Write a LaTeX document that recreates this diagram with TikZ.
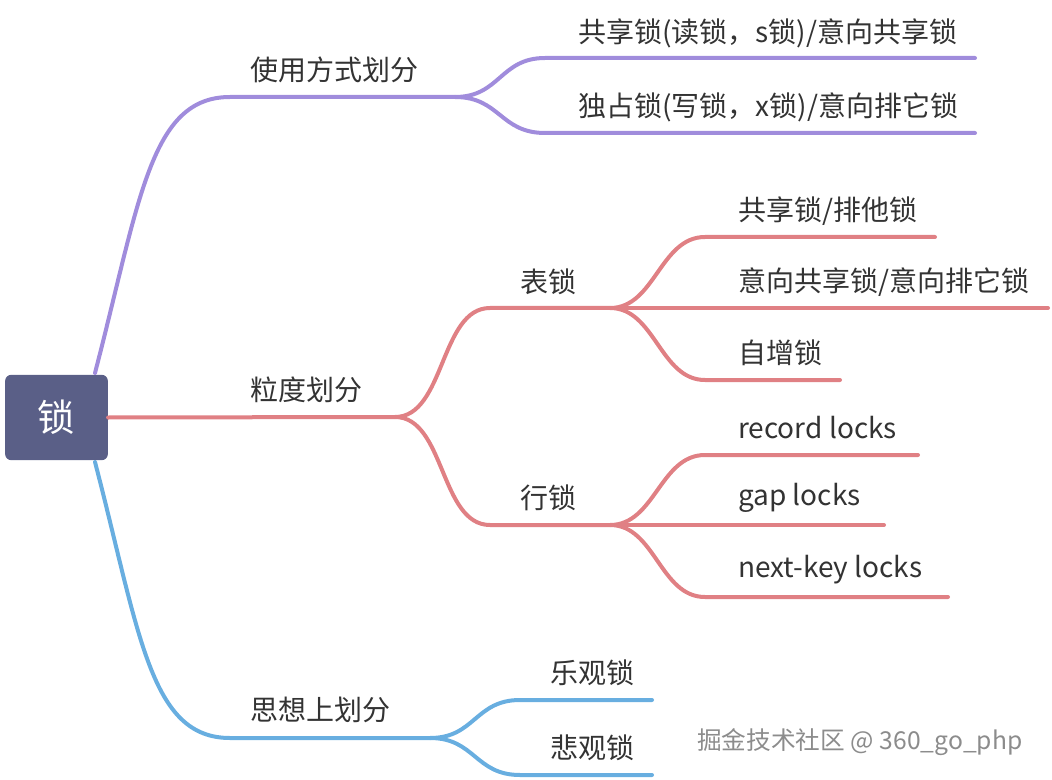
\documentclass[tikz,border=0pt]{standalone}
\usepackage{fontspec}
\setmainfont{Noto Sans CJK SC}
\usepackage{xcolor}
\usetikzlibrary{positioning,calc}
\definecolor{rootfill}{HTML}{5A5F87}
\definecolor{usecol}{HTML}{A08CDC}
\definecolor{grancol}{HTML}{E08084}
\definecolor{ideacol}{HTML}{68AEE0}
\definecolor{txtcol}{HTML}{333333}

\tikzset{
  rootbox/.style={fill=rootfill, rounded corners=4.5pt, minimum width=77pt, minimum height=64pt,
    inner sep=0pt, text=white, font=\fontsize{28}{32}\selectfont},
  branch/.style={line width=3pt, line cap=round},
  leaf/.style={anchor=west, inner sep=0pt, text=txtcol, font=\fontsize{21}{25}\selectfont},
}

\begin{document}
\begin{tikzpicture}[x=0.75pt,y=-0.75pt]
    \useasboundingbox (0,0) rectangle (1052,780);

    % root
    \node[rootbox] (root) at (56.5,417.5) {锁};
    \coordinate (usestart) at (95,373);
    \coordinate (ideastart) at (95,462);

    % 使用方式划分
    \node[leaf] (use) at (250,70) {使用方式划分};
    \node[leaf] (use-s) at (578,33) {共享锁(读锁，s锁)/意向共享锁};
    \node[leaf] (use-x) at (578,107) {独占锁(写锁，x锁)/意向排它锁};
    \coordinate (usemid) at (230,97);
    \coordinate (usefork) at (455,97);
    \coordinate (use-s-a) at (545,58);
    \coordinate (use-s-b) at (975,58);
    \coordinate (use-x-a) at (545,133);
    \coordinate (use-x-b) at (975,133);
    \draw[branch,usecol] (usestart) .. controls (140,200) and (150,97) .. (usemid) -- (usefork);
    \draw[branch,usecol] (usefork) .. controls (500,97) and (500,58) .. (use-s-a) -- (use-s-b);
    \draw[branch,usecol] (usefork) .. controls (500,97) and (500,133) .. (use-x-a) -- (use-x-b);

    % 粒度划分
    \node[leaf] (gran) at (250,390) {粒度划分};
    \node[leaf] (table) at (520,282) {表锁};
    \node[leaf] (row) at (520,498) {行锁};
    \coordinate (granfork) at (395,417);
    \coordinate (table-a) at (490,308);
    \coordinate (tablefork) at (610,308);
    \coordinate (row-a) at (490,525);
    \coordinate (rowfork) at (610,525);
    \draw[branch,grancol] (root.east) -- (granfork);
    \draw[branch,grancol] (granfork) .. controls (445,417) and (440,308) .. (table-a) -- (tablefork);
    \draw[branch,grancol] (granfork) .. controls (445,417) and (440,525) .. (row-a) -- (rowfork);

    % 表锁
    \node[leaf] (table-s) at (738,211) {共享锁/排他锁};
    \node[leaf] (table-i) at (738,282) {意向共享锁/意向排它锁};
    \node[leaf] (table-auto) at (738,353) {自增锁};
    \coordinate (table-s-a) at (705,237);
    \coordinate (table-s-b) at (935,237);
    \coordinate (table-i-b) at (1048,308);
    \coordinate (table-auto-a) at (705,380);
    \coordinate (table-auto-b) at (840,380);
    \draw[branch,grancol] (tablefork) .. controls (655,308) and (660,237) .. (table-s-a) -- (table-s-b);
    \draw[branch,grancol] (tablefork) -- (table-i-b);
    \draw[branch,grancol] (tablefork) .. controls (655,308) and (660,380) .. (table-auto-a) -- (table-auto-b);

    % 行锁
    \node[leaf] (row-rec) at (738,428) {record locks};
    \node[leaf] (row-gap) at (738,498) {gap locks};
    \node[leaf] (row-next) at (738,570) {next-key locks};
    \coordinate (row-rec-a) at (705,455);
    \coordinate (row-rec-b) at (918,455);
    \coordinate (row-gap-b) at (884,525);
    \coordinate (row-next-a) at (705,597);
    \coordinate (row-next-b) at (948,597);
    \draw[branch,grancol] (rowfork) .. controls (655,525) and (660,455) .. (row-rec-a) -- (row-rec-b);
    \draw[branch,grancol] (rowfork) -- (row-gap-b);
    \draw[branch,grancol] (rowfork) .. controls (655,525) and (660,597) .. (row-next-a) -- (row-next-b);

    % 思想上划分
    \node[leaf] (idea) at (250,710) {思想上划分};
    \node[leaf] (idea-opt) at (550,673) {乐观锁};
    \node[leaf] (idea-pes) at (550,748) {悲观锁};
    \coordinate (ideamid) at (230,738);
    \coordinate (ideafork) at (430,738);
    \coordinate (idea-opt-a) at (520,700);
    \coordinate (idea-opt-b) at (652,700);
    \coordinate (idea-pes-a) at (520,775);
    \coordinate (idea-pes-b) at (652,775);
    \draw[branch,ideacol] (ideastart) .. controls (140,635) and (150,738) .. (ideamid) -- (ideafork);
    \draw[branch,ideacol] (ideafork) .. controls (475,738) and (475,700) .. (idea-opt-a) -- (idea-opt-b);
    \draw[branch,ideacol] (ideafork) .. controls (475,738) and (475,775) .. (idea-pes-a) -- (idea-pes-b);

    % watermark
    \node[anchor=west, inner sep=0pt, text=black!45, font=\fontsize{18.5}{22}\selectfont] (mark) at (697,742) {掘金技术社区 @ 360\_go\_php};
\end{tikzpicture}
\end{document}
